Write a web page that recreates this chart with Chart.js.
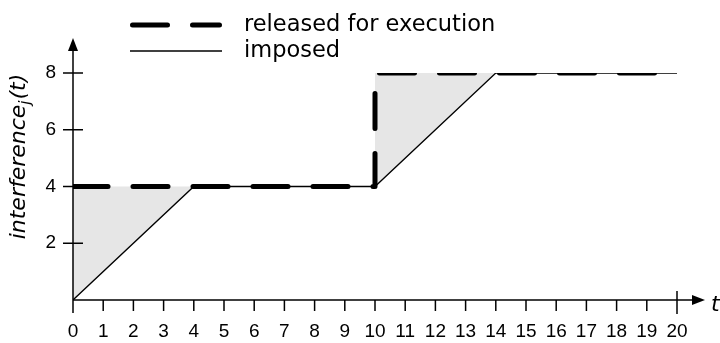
<!DOCTYPE html>
<html>
<head>
<meta charset="utf-8">
<script src="https://cdn.jsdelivr.net/npm/chart.js@4.4.1/dist/chart.umd.min.js"></script>
<style>
  html, body { margin: 0; padding: 0; background: #fff; }
  #wrap { width: 720px; height: 343px; }
</style>
</head>
<body>
<div id="wrap"><canvas id="chart" width="720" height="343"></canvas></div>
<script>
// Time instants (t) and interference levels for each curve
const releasedT     = [0, 10, 10, 20];
const releasedLevel = [4, 4, 8, 8];
const imposedT      = [0, 4, 10, 14, 20];
const imposedLevel  = [0, 4, 4, 8, 8];

// Axis ticks
const xTickValues = [0, 1, 2, 3, 4, 5, 6, 7, 8, 9, 10, 11, 12, 13, 14, 15, 16, 17, 18, 19, 20];
const yTickValues = [2, 4, 6, 8];

const seriesNames = ['released for execution', 'imposed'];

const FONT = '"DejaVu Sans", "Liberation Sans", Arial, sans-serif';
const TICK_FONT = '"Liberation Sans", Arial, Helvetica, sans-serif';

function toPoints(xs, ys) {
  return xs.map((x, i) => ({ x: x, y: ys[i] }));
}

// Draws arrowed axes, tick marks, axis titles and the legend
const decorations = {
  id: 'decorations',
  afterDatasetsDraw(chart) {
    const ctx = chart.ctx;
    const xs = chart.scales.x;
    const ys = chart.scales.y;
    const x0 = xs.getPixelForValue(0);
    const y0 = ys.getPixelForValue(0);
    const xEnd = xs.getPixelForValue(20);
    const yTop = ys.getPixelForValue(8);

    ctx.save();
    ctx.strokeStyle = '#000';
    ctx.fillStyle = '#000';
    ctx.lineWidth = 1.5;
    ctx.lineCap = 'butt';

    // x axis with arrow
    const xTip = xEnd + 28;
    ctx.beginPath();
    ctx.moveTo(x0, y0);
    ctx.lineTo(xTip - 6, y0);
    ctx.stroke();
    ctx.beginPath();
    ctx.moveTo(xTip, y0);
    ctx.lineTo(xTip - 13, y0 - 5);
    ctx.lineTo(xTip - 13, y0 + 5);
    ctx.closePath();
    ctx.fill();

    // y axis with arrow
    const yTip = yTop - 35;
    ctx.beginPath();
    ctx.moveTo(x0, y0);
    ctx.lineTo(x0, yTip + 6);
    ctx.stroke();
    ctx.beginPath();
    ctx.moveTo(x0, yTip);
    ctx.lineTo(x0 - 5, yTip + 13);
    ctx.lineTo(x0 + 5, yTip + 13);
    ctx.closePath();
    ctx.fill();

    // x tick marks
    xTickValues.forEach(v => {
      const px = xs.getPixelForValue(v);
      ctx.beginPath();
      if (v === 20) {
        ctx.moveTo(px, y0 - 9);
        ctx.lineTo(px, y0 + 14);
      } else {
        ctx.moveTo(px, y0);
        ctx.lineTo(px, y0 + (v === 0 ? 13 : 11));
      }
      ctx.stroke();
    });

    // y tick marks (crossing the axis)
    yTickValues.forEach(v => {
      const py = ys.getPixelForValue(v);
      ctx.beginPath();
      ctx.moveTo(x0 - 10, py);
      ctx.lineTo(x0 + 10, py);
      ctx.stroke();
    });

    // axis title t
    ctx.font = 'italic 22px ' + FONT;
    ctx.textAlign = 'left';
    ctx.textBaseline = 'alphabetic';
    ctx.fillText('t', 711, y0 + 11);

    // y axis title: interference_j(t)
    ctx.save();
    ctx.translate(25, 157);
    ctx.rotate(-Math.PI / 2);
    const mainFont = 'italic 22px ' + FONT;
    const subFont = 'italic 15px ' + FONT;
    ctx.font = mainFont;
    const w1 = ctx.measureText('interference').width;
    const w3 = ctx.measureText('(t)').width;
    ctx.font = subFont;
    const w2 = ctx.measureText('j').width;
    let cx = -(w1 + w2 + w3) / 2;
    ctx.font = mainFont;
    ctx.fillText('interference', cx, 0);
    cx += w1;
    ctx.font = subFont;
    ctx.fillText('j', cx, 5);
    cx += w2 + 1;
    ctx.font = mainFont;
    ctx.fillText('(t)', cx, 0);
    ctx.restore();

    // legend
    const legendRows = [25, 51];
    chart.data.datasets.forEach((ds, i) => {
      const ly = legendRows[i];
      ctx.save();
      ctx.strokeStyle = ds.borderColor;
      ctx.lineWidth = ds.borderWidth;
      ctx.lineCap = ds.borderCapStyle || 'butt';
      ctx.setLineDash(ds.borderDash || []);
      ctx.beginPath();
      const pad = ds.borderCapStyle === 'round' ? ds.borderWidth / 2 : 0;
      ctx.moveTo(130 + pad, ly);
      ctx.lineTo(222 - pad, ly);
      ctx.stroke();
      ctx.restore();
      ctx.font = '22.5px ' + FONT;
      ctx.textAlign = 'left';
      ctx.fillText(ds.label, 244, ly + 6);
    });

    ctx.restore();
  }
};

new Chart(document.getElementById('chart'), {
  type: 'scatter',
  data: {
    datasets: [
      {
        label: seriesNames[0],
        data: toPoints(releasedT, releasedLevel),
        showLine: true,
        borderColor: '#000',
        borderWidth: 5,
        borderDash: [35, 25],
        borderCapStyle: 'round',
        borderJoinStyle: 'round',
        pointRadius: 0,
        fill: false,
        tension: 0
      },
      {
        label: seriesNames[1],
        data: toPoints(imposedT, imposedLevel),
        showLine: true,
        borderColor: '#000',
        borderWidth: 1.3,
        pointRadius: 0,
        fill: { target: 0 },
        backgroundColor: '#e6e6e6',
        tension: 0
      }
    ]
  },
  options: {
    responsive: false,
    animation: false,
    events: [],
    layout: { padding: { left: 0, right: 43, top: 73, bottom: 0 } },
    plugins: {
      legend: { display: false },
      tooltip: { enabled: false },
      filler: { propagate: false }
    },
    scales: {
      x: {
        type: 'linear',
        min: 0,
        max: 20,
        afterFit: s => { s.height = 43; },
        afterBuildTicks: s => { s.ticks = xTickValues.map(v => ({ value: v })); },
        grid: { display: false, drawTicks: false },
        border: { display: false },
        ticks: {
          autoSkip: false,
          maxRotation: 0,
          padding: 20,
          color: '#000',
          font: { family: TICK_FONT, size: 19 }
        }
      },
      y: {
        type: 'linear',
        min: 0,
        max: 8,
        afterFit: s => { s.width = 73; },
        afterBuildTicks: s => { s.ticks = yTickValues.map(v => ({ value: v })); },
        grid: { display: false, drawTicks: false },
        border: { display: false },
        ticks: {
          padding: 17,
          color: '#000',
          font: { family: TICK_FONT, size: 19 }
        }
      }
    }
  },
  plugins: [decorations]
});
</script>
</body>
</html>
